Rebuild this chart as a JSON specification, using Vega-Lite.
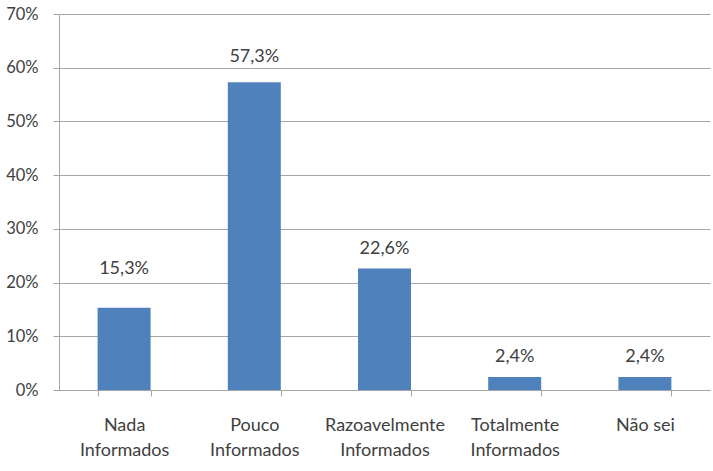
{
  "$schema": "https://vega.github.io/schema/vega-lite/v6.json",
  "width": 651,
  "height": 376,
  "autosize": {"type": "none"},
  "padding": {"left": 59, "top": 14, "right": 3, "bottom": 81},
  "background": "white",
  "config": {
    "locale": {"number": {"decimal": ",", "thousands": ".", "grouping": [3], "currency": ["", " €"]}},
    "view": {"stroke": null},
    "font": "Lato"
  },
  "data": {
    "values": [
      {"categoria": "Nada Informados", "valor": 0.153},
      {"categoria": "Pouco Informados", "valor": 0.573},
      {"categoria": "Razoavelmente Informados", "valor": 0.226},
      {"categoria": "Totalmente Informados", "valor": 0.024},
      {"categoria": "Não sei", "valor": 0.024}
    ]
  },
  "encoding": {
    "x": {
      "field": "categoria",
      "type": "nominal",
      "sort": null,
      "scale": {"paddingInner": 0.593, "paddingOuter": 0.2965},
      "axis": {
        "title": null,
        "labelAngle": 0,
        "labelExpr": "datum.label == 'Não sei' ? datum.label : split(datum.label, ' ')",
        "labelFont": "Lato",
        "labelFontSize": 18,
        "labelColor": "#404040",
        "labelLineHeight": 25,
        "labelPadding": 20,
        "labelBaseline": "top",
        "tickBand": "extent",
        "tickSize": 6,
        "tickColor": "#A6A6A6",
        "domainColor": "#A6A6A6",
        "labelBound": false,
        "labelOverlap": false
      }
    },
    "y": {
      "field": "valor",
      "type": "quantitative",
      "scale": {"domain": [0, 0.7], "nice": false},
      "axis": {
        "title": null,
        "values": [0, 0.1, 0.2, 0.3, 0.4, 0.5, 0.6, 0.7],
        "format": ".0%",
        "labelFont": "Lato",
        "labelFontSize": 16.5,
        "labelColor": "#404040",
        "labelPadding": 15,
        "tickSize": 6,
        "tickColor": "#A6A6A6",
        "domainColor": "#A6A6A6",
        "gridColor": "#A6A6A6",
        "grid": true
      }
    }
  },
  "layer": [
    {"mark": {"type": "bar", "color": "#4F81BD"}},
    {
      "transform": [{"filter": "datum.categoria != 'Nada Informados' && datum.categoria != 'Pouco Informados'"}],
      "mark": {"type": "text", "baseline": "middle", "dy": -20, "fontSize": 18, "color": "#404040", "font": "Lato"},
      "encoding": {"text": {"field": "valor", "type": "quantitative", "format": ".1%"}}
    },
    {
      "transform": [{"filter": "datum.categoria == 'Nada Informados'"}],
      "mark": {"type": "text", "baseline": "middle", "dy": -39, "fontSize": 18, "color": "#404040", "font": "Lato"},
      "encoding": {"text": {"field": "valor", "type": "quantitative", "format": ".1%"}}
    },
    {
      "transform": [{"filter": "datum.categoria == 'Pouco Informados'"}],
      "mark": {"type": "text", "baseline": "middle", "dy": -25, "fontSize": 18, "color": "#404040", "font": "Lato"},
      "encoding": {"text": {"field": "valor", "type": "quantitative", "format": ".1%"}}
    }
  ]
}
